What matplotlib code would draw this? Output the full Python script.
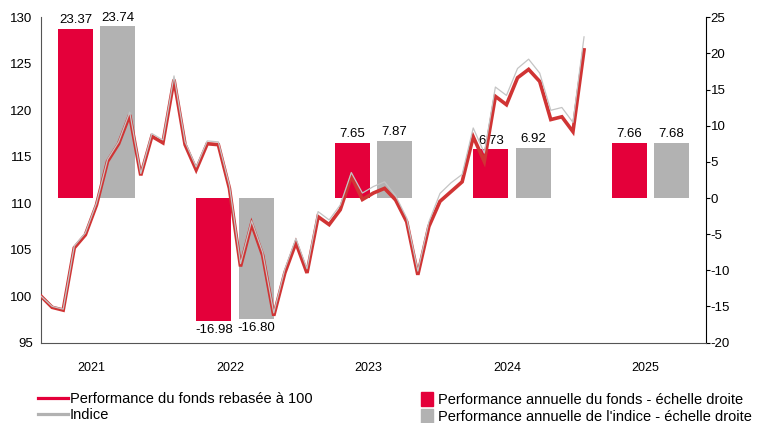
import numpy as np
import matplotlib
matplotlib.use('Agg')
import matplotlib.pyplot as plt
from matplotlib.lines import Line2D
from matplotlib.patches import Patch

plt.rcParams['font.family'] = ['Liberation Sans', 'DejaVu Sans']
plt.rcParams['axes.unicode_minus'] = False

# monthly values, Dec 2020 -> Jan 2025, rebased to 100
fund = [100.0, 98.8, 98.5, 105.2, 106.6, 109.8, 114.5, 116.4, 119.5, 113.0,
        117.2, 116.5, 123.3, 116.3, 113.6, 116.4, 116.3, 111.6, 103.2, 107.8,
        104.4, 97.9, 102.5, 105.75, 102.5, 108.55, 107.7, 109.3, 112.9, 110.4,
        111.1, 111.6, 110.35, 108.0, 102.3, 107.5, 110.2, 111.25, 112.3, 117.15,
        114.5, 121.5, 120.6, 123.5, 124.4, 123.1, 119.0, 119.3, 117.7, 126.5]
index = [100.0, 98.9, 98.6, 105.4, 106.8, 110.0, 114.7, 116.6, 119.8, 113.2,
         117.5, 116.8, 123.7, 116.6, 113.9, 116.7, 116.6, 111.9, 103.5, 108.1,
         104.7, 98.2, 102.9, 106.2, 102.95, 109.1, 108.2, 109.8, 113.3, 111.1,
         111.8, 112.3, 110.8, 108.4, 102.7, 108.0, 111.05, 112.2, 113.1, 118.1,
         115.4, 122.5, 121.6, 124.5, 125.5, 124.0, 120.0, 120.3, 118.7, 127.9]

years = ['2021', '2022', '2023', '2024', '2025']
perf_fund = [23.37, -16.98, 7.65, 6.73, 7.66]
perf_index = [23.74, -16.80, 7.87, 6.92, 7.68]

red = '#e4003a'
gray = '#b2b2b2'
line_red = '#d03434'

fig = plt.figure(figsize=(7.64, 4.23), dpi=100)
ax = fig.add_axes([0.0537, 0.19, 0.8703, 0.769])
ax2 = ax.twinx()

# line on top of bars
ax.set_zorder(ax2.get_zorder() + 1)
ax.patch.set_visible(False)

x = np.arange(len(fund))
ax.plot(x, fund, color=line_red, lw=2.6, solid_joinstyle='miter', zorder=3)
ax.plot(x, index, color='#c4c4c4', lw=0.9, zorder=4)

centers = 5 + 12.5 * np.arange(len(years))
w = 3.16
off = 1.9
b1 = ax2.bar(centers - off, perf_fund, w, color=red, zorder=2)
b2 = ax2.bar(centers + off, perf_index, w, color=gray, zorder=2)

for bars, vals in ((b1, perf_fund), (b2, perf_index)):
    for r, v in zip(bars, vals):
        cx = r.get_x() + r.get_width() / 2
        if v >= 0:
            ax2.text(cx, v + 0.4, f'{v:.2f}', ha='center', va='bottom', fontsize=9.5)
        else:
            ax2.text(cx, v - 0.4, f'{v:.2f}', ha='center', va='top', fontsize=9.5)

ax.set_xlim(0, 60)
ax.set_ylim(95, 130)
ax2.set_ylim(-20, 25)
ax.set_yticks(np.arange(95, 131, 5))
ax2.set_yticks(np.arange(-20, 26, 5))

ax.set_xticks(centers - 0.45)
ax.set_xticklabels(years)
ax.tick_params(axis='x', length=0, pad=14, labelsize=9)
ax.tick_params(axis='y', length=0, pad=6, labelsize=9.5)
ax2.tick_params(axis='y', length=3, pad=0.5, labelsize=9.5, direction='out')

for a in (ax, ax2):
    a.spines['top'].set_visible(False)
ax.spines['right'].set_visible(False)
ax.spines['left'].set_color('#555555')
ax.spines['bottom'].set_color('#555555')
ax2.spines['left'].set_visible(False)
ax2.spines['bottom'].set_visible(False)
ax2.spines['right'].set_color('black')

h_lines = [Line2D([], [], color=red, lw=2.3), Line2D([], [], color=gray, lw=2.3)]
leg1 = fig.legend(h_lines, ['Performance du fonds rebasée à 100', 'Indice'],
                  loc='upper left', bbox_to_anchor=(0.0497, 0.073), frameon=False,
                  fontsize=10.5, handlelength=2.05, handletextpad=0.14,
                  labelspacing=0.15, borderpad=0, borderaxespad=0)
h_bars = [Patch(color=red), Patch(color=gray)]
leg2 = fig.legend(h_bars, ['Performance annuelle du fonds - échelle droite',
                           "Performance annuelle de l'indice - échelle droite"],
                  loc='upper left', bbox_to_anchor=(0.551, 0.074), frameon=False,
                  fontsize=10.5, handlelength=0.8, handleheight=1.1,
                  handletextpad=0.4, labelspacing=0.15, borderpad=0, borderaxespad=0)

fig.savefig('out.png', dpi=100)
